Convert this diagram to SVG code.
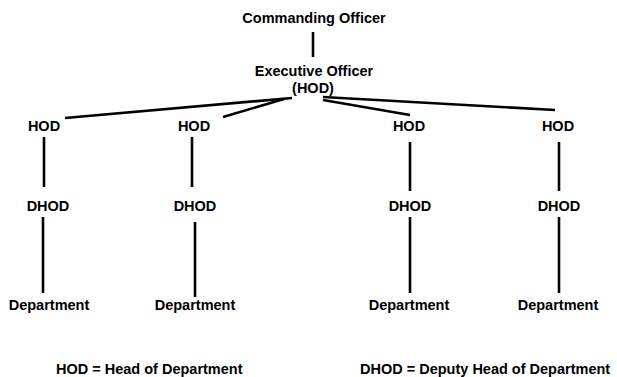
<svg xmlns="http://www.w3.org/2000/svg" width="617" height="377" viewBox="0 0 617 377">
<style>
text{font-family:"Liberation Sans",Arial,sans-serif;font-weight:bold;font-size:14.5px;fill:#000;text-anchor:middle}
.l{text-anchor:start}
line{stroke:#000;stroke-width:2.6;stroke-linecap:butt}
</style>
<rect width="617" height="377" fill="#fff"/>
<g id="connectors">
<line x1="313" y1="32" x2="313" y2="57"/>
<line x1="292" y1="98" x2="65" y2="118"/>
<line x1="284" y1="99" x2="223" y2="117"/>
<line x1="323" y1="100" x2="410" y2="115"/>
<line x1="323" y1="97" x2="555" y2="110"/>
<line x1="44" y1="137" x2="44" y2="187"/>
<line x1="192" y1="137" x2="192" y2="187"/>
<line x1="410" y1="142" x2="410" y2="191"/>
<line x1="559" y1="142" x2="559" y2="191"/>
<line x1="43" y1="217" x2="43" y2="293"/>
<line x1="195" y1="222" x2="195" y2="297"/>
<line x1="410" y1="217" x2="410" y2="293"/>
<line x1="559" y1="217" x2="559" y2="293"/>
</g>
<g id="co"><text x="314" y="23">Commanding Officer</text></g>
<g id="xo"><text x="314" y="76">Executive Officer</text><text x="313" y="93">(HOD)</text></g>
<g id="hod1"><text x="44" y="131">HOD</text></g>
<g id="hod2"><text x="194" y="131">HOD</text></g>
<g id="hod3"><text x="409" y="131">HOD</text></g>
<g id="hod4"><text x="558" y="131">HOD</text></g>
<g id="dhod1"><text x="48" y="211">DHOD</text></g>
<g id="dhod2"><text x="195" y="211">DHOD</text></g>
<g id="dhod3"><text x="410" y="211">DHOD</text></g>
<g id="dhod4"><text x="559" y="211">DHOD</text></g>
<g id="dept1"><text x="49" y="310">Department</text></g>
<g id="dept2"><text x="195" y="310">Department</text></g>
<g id="dept3"><text x="409" y="310">Department</text></g>
<g id="dept4"><text x="558" y="310">Department</text></g>
<g id="legend">
<text class="l" x="56" y="374">HOD = Head of Department</text>
<text class="l" x="360" y="374">DHOD = Deputy Head of Department</text>
</g>
</svg>
